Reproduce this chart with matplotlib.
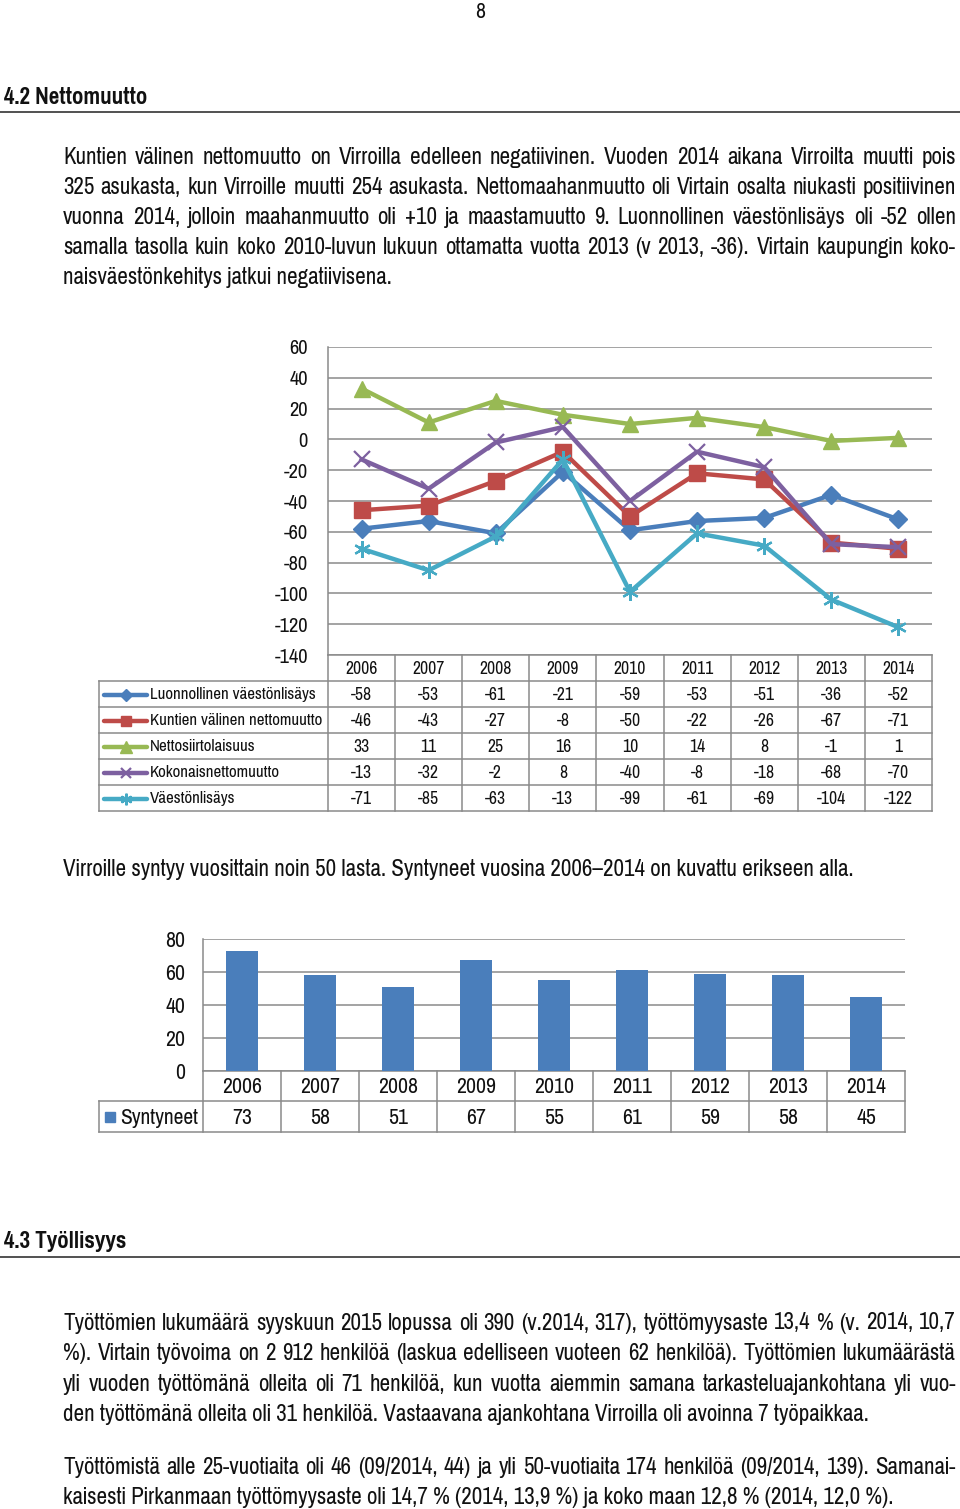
import matplotlib
matplotlib.use('Agg')
import matplotlib.pyplot as plt
from matplotlib import font_manager

names = {f.name for f in font_manager.fontManager.ttflist}
NARROW = 'Liberation Sans'
for cand in ['Liberation Sans Narrow', 'Arial Narrow', 'Pragati Narrow', 'Archivo Narrow',
             'Roboto Condensed', 'PT Sans Narrow']:
    if cand in names:
        NARROW = cand
        break
plt.rcParams['font.family'] = [NARROW, 'DejaVu Sans']
plt.rcParams['axes.unicode_minus'] = False

# ---------------- data ----------------
years = ['2006', '2007', '2008', '2009', '2010', '2011', '2012', '2013', '2014']
luonnollinen = [-58, -53, -61, -21, -59, -53, -51, -36, -52]
kuntien = [-46, -43, -27, -8, -50, -22, -26, -67, -71]
nettosiirto = [33, 11, 25, 16, 10, 14, 8, -1, 1]
kokonais = [-13, -32, -2, 8, -40, -8, -18, -68, -70]
vaestonlisays = [-71, -85, -63, -13, -99, -61, -69, -104, -122]
series_names = ['Luonnollinen väestönlisäys', 'Kuntien välinen nettomuutto',
                'Nettosiirtolaisuus', 'Kokonaisnettomuutto', 'Väestönlisäys']
y1_ticks = [-140, -120, -100, -80, -60, -40, -20, 0, 20, 40, 60]

bar_label = 'Syntyneet'
syntyneet = [73, 58, 51, 67, 55, 61, 59, 58, 45]
y2_ticks = [0, 20, 40, 60, 80]

para1 = [
    "Kuntien välinen nettomuutto on Virroilla edelleen negatiivinen. Vuoden 2014 aikana Virroilta muutti pois",
    "325 asukasta, kun Virroille muutti 254 asukasta. Nettomaahanmuutto oli Virtain osalta niukasti positiivinen",
    "vuonna 2014, jolloin maahanmuutto oli +10 ja maastamuutto 9.  Luonnollinen väestönlisäys oli -52 ollen",
    "samalla tasolla kuin koko 2010-luvun lukuun ottamatta vuotta 2013 (v 2013, -36). Virtain kaupungin koko-",
    "naisväestönkehitys jatkui negatiivisena.",
]
mid_text = "Virroille syntyy vuosittain noin 50 lasta. Syntyneet vuosina 2006–2014 on kuvattu erikseen alla."
para2 = [
    "Työttömien lukumäärä syyskuun 2015 lopussa oli 390 (v.2014, 317), työttömyysaste 13,4 % (v. 2014, 10,7",
    "%).  Virtain työvoima on 2\u00a0912 henkilöä (laskua edelliseen vuoteen 62 henkilöä). Työttömien lukumäärästä",
    "yli vuoden työttömänä olleita oli 71 henkilöä, kun vuotta aiemmin samana tarkasteluajankohtana yli vuo-",
    "den työttömänä olleita oli 31 henkilöä. Vastaavana ajankohtana Virroilla oli avoinna 7 työpaikkaa.",
]
para3 = [
    "Työttömistä alle 25-vuotiaita oli 46 (09/2014, 44) ja yli 50-vuotiaita 174 henkilöä (09/2014, 139). Samanai-",
    "kaisesti Pirkanmaan työttömyysaste oli 14,7 % (2014, 13,9 %) ja koko maan 12,8 % (2014, 12,0 %).",
]

# ---------------- styles ----------------
W, H = 960, 1509
BLUE, RED, GREEN, PURPLE, CYAN = '#4A7EBB', '#BE4B48', '#98B954', '#7D60A0', '#46AAC5'
GRID = '#8A8A8A'
TXT = '#111111'
BODY = 18

fig = plt.figure(figsize=(W / 100, H / 100), dpi=100)
bg = fig.add_axes([0, 0, 1, 1])
bg.set_xlim(0, W)
bg.set_ylim(H, 0)
bg.axis('off')


def ax_at(x0, y0, x1, y1):
    a = fig.add_axes([x0 / W, 1 - y1 / H, (x1 - x0) / W, (y1 - y0) / H])
    a.patch.set_alpha(0)
    return a


renderer = fig.canvas.get_renderer()


def justify(lines, y0, dy, x0=63, x1=956, size=BODY):
    for i, line in enumerate(lines):
        y = y0 + i * dy
        if i == len(lines) - 1:
            bg.text(x0, y, line.replace('\u00a0', ' '), fontsize=size, va='center', ha='left', color=TXT)
            continue
        words = line.split()
        objs = [bg.text(x0, y, w.replace('\u00a0', ' '), fontsize=size, va='center', ha='left', color=TXT)
                for w in words]
        widths = [o.get_window_extent(renderer).width for o in objs]
        gap = (x1 - x0 - sum(widths)) / (len(words) - 1)
        x = x0
        for o, w in zip(objs, widths):
            o.set_x(x)
            x += w + gap


# ---------------- page text ----------------
bg.text(480, 12, '8', fontsize=17, ha='center', va='center', color=TXT)
bg.text(4, 97, '4.2 Nettomuutto', fontsize=18, weight='bold', ha='left', va='center', color=TXT)
bg.plot([0, 960], [112, 112], color='#333333', lw=1.2)
justify(para1, 157, 30.2)
bg.text(63, 869, mid_text, fontsize=BODY, ha='left', va='center', color=TXT)
bg.text(4, 1242, '4.3 Työllisyys', fontsize=18, weight='bold', ha='left', va='center', color=TXT)
bg.plot([0, 960], [1257, 1257], color='#333333', lw=1.2)
justify(para2, 1323, 30.6)
justify(para3, 1467, 30.2)

# ---------------- line chart ----------------
L1, T1, R1, B1 = 328, 347, 932, 655
ax1 = ax_at(L1, T1, R1, B1)
ax1.set_xlim(-0.5, len(years) - 0.5)
ax1.set_ylim(-140, 60)
ax1.set_yticks(y1_ticks)
ax1.set_yticklabels([str(v) for v in y1_ticks])
ax1.tick_params(axis='y', length=0, pad=14.5, labelsize=16, labelcolor=TXT)
ax1.set_xticks([])
for s in ['top', 'right', 'bottom']:
    ax1.spines[s].set_visible(False)
ax1.spines['left'].set_color(GRID)
ax1.spines['left'].set_linewidth(1.1)
ax1.set_axisbelow(True)
ax1.yaxis.grid(True, color=GRID, lw=1.1)

series = [luonnollinen, kuntien, nettosiirto, kokonais, vaestonlisays]
styles = [
    dict(color=BLUE, marker='D', ms=9),
    dict(color=RED, marker='s', ms=11),
    dict(color=GREEN, marker='^', ms=11.5),
    dict(color=PURPLE, marker='x', ms=11, mew=1.6),
    dict(color=CYAN, marker=(6, 2, 0), ms=12, mew=1.6),
]
xs = list(range(len(years)))
for vals, st in zip(series, styles):
    ax1.plot(xs, vals, lw=3.2, clip_on=False, **st)

# table 1
cw = (R1 - L1) / len(years)
rows_y = [681, 707, 733, 759, 785, 811]
tl = dict(color=GRID, lw=1.1)
for i in range(len(years) + 1):
    bg.plot([L1 + i * cw] * 2, [B1, rows_y[-1]], **tl)
bg.plot([L1, R1], [B1, B1], **tl)
for yy in rows_y:
    bg.plot([99, R1], [yy, yy], **tl)
bg.plot([99, 99], [rows_y[0], rows_y[-1]], **tl)
for i, yr in enumerate(years):
    bg.text(L1 + (i + 0.5) * cw, (B1 + rows_y[0]) / 2 + 1, yr, fontsize=13.8, ha='center', va='center', color=TXT)
for r, (nm, vals, st) in enumerate(zip(series_names, series, styles)):
    yc = (rows_y[r] + rows_y[r + 1]) / 2 + 0.5
    bg.plot([104, 147], [yc, yc], color=st['color'], lw=3.2, solid_capstyle='round')
    mst = dict(st)
    mst['ms'] = st['ms'] * 0.7
    bg.plot([125.5], [yc], ls='none', **mst)
    bg.text(150, yc, nm, fontsize=13.2, ha='left', va='center', color=TXT)
    for i, v in enumerate(vals):
        bg.text(L1 + (i + 0.5) * cw, yc, str(v), fontsize=13.8, ha='center', va='center', color=TXT)

# ---------------- bar chart ----------------
L2, T2, R2, B2 = 203, 939, 905, 1071
ax2 = ax_at(L2, T2, R2, B2)
ax2.set_xlim(-0.5, len(years) - 0.5)
ax2.set_ylim(0, 80)
ax2.bar(xs, syntyneet, width=0.4, color=BLUE, zorder=3)
ax2.set_yticks(y2_ticks)
ax2.set_yticklabels([str(v) for v in y2_ticks])
ax2.tick_params(axis='y', length=0, pad=13, labelsize=17, labelcolor=TXT)
ax2.set_xticks([])
for s in ['top', 'right', 'bottom']:
    ax2.spines[s].set_visible(False)
ax2.spines['left'].set_color(GRID)
ax2.spines['left'].set_linewidth(1.1)
ax2.set_axisbelow(True)
ax2.yaxis.grid(True, color=GRID, lw=1.1)

cw2 = (R2 - L2) / len(years)
r2 = [1101, 1132]
for i in range(len(years) + 1):
    bg.plot([L2 + i * cw2] * 2, [B2, r2[-1]], **tl)
bg.plot([L2, R2], [B2, B2], **tl)
for yy in r2:
    bg.plot([99, R2], [yy, yy], **tl)
bg.plot([99, 99], r2, **tl)
for i, yr in enumerate(years):
    bg.text(L2 + (i + 0.5) * cw2, (B2 + r2[0]) / 2 + 1, yr, fontsize=17, ha='center', va='center', color=TXT)
yc2 = (r2[0] + r2[1]) / 2 + 1
bg.plot([110], [yc2 - 1], ls='none', marker='s', ms=7, color=BLUE)
bg.text(120, yc2, bar_label, fontsize=16.8, ha='left', va='center', color=TXT)
for i, v in enumerate(syntyneet):
    bg.text(L2 + (i + 0.5) * cw2, yc2, str(v), fontsize=17, ha='center', va='center', color=TXT)

fig.savefig('out.png', dpi=100, facecolor='white')
